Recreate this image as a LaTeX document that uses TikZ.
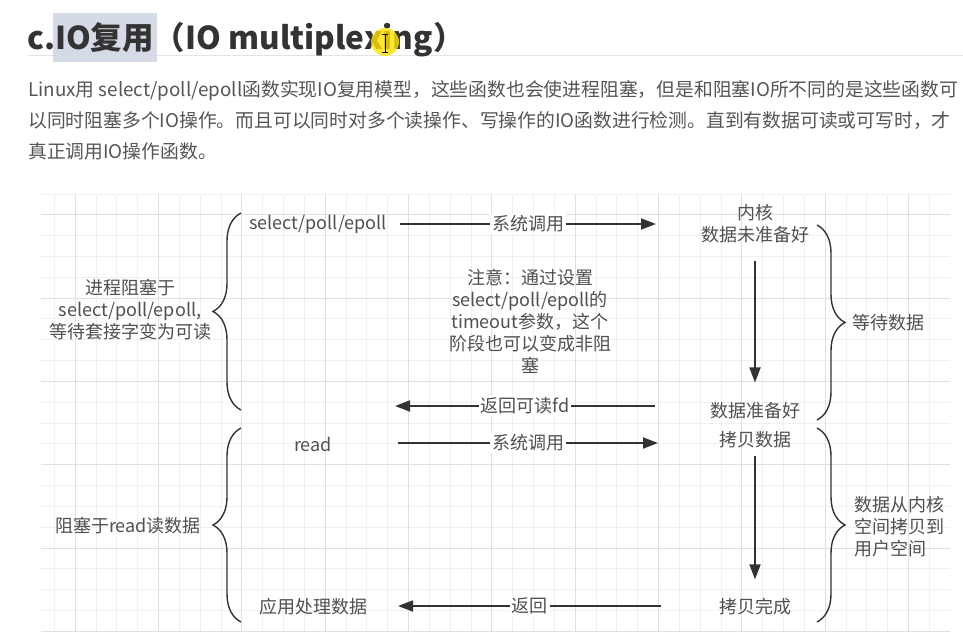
\documentclass[tikz,border=0pt]{standalone}
\usepackage{fontspec}
\setmainfont{Noto Sans CJK SC}
\usetikzlibrary{arrows.meta,decorations.pathreplacing}
\definecolor{txtgray}{HTML}{505050}
\definecolor{paragray}{HTML}{555555}
\definecolor{linegray}{HTML}{333333}
\definecolor{gridminor}{HTML}{F0F0F0}
\definecolor{gridmajor}{HTML}{E0E0E0}
\definecolor{hlblue}{HTML}{D5DBE6}
\definecolor{rulegray}{HTML}{E4E4E4}

\begin{document}
\begin{tikzpicture}[x=1pt,y=-1pt,
	lbl/.style={text=txtgray,font=\fontsize{18}{22}\selectfont,align=center,inner sep=1pt},
	onarr/.style={lbl,fill=white,inner sep=2pt},
	para/.style={text=paragray,font=\fontsize{18.8}{22}\selectfont,anchor=west,inner sep=0pt},
	arr/.style={draw=linegray,line width=1.8pt,-{Triangle[length=15pt,width=11pt]}},
	brc/.style={draw=linegray,line width=1.4pt,decorate,decoration={brace,amplitude=28pt}}]
	% 画布
	\useasboundingbox (0,0) rectangle (963,634);
	\fill[white] (0,0) rectangle (963,634);
	% 标题
	\draw[rulegray,line width=1pt] (28,56) -- (963,56);
	\fill[hlblue] (53,13) rectangle (157,62);
	\node[anchor=base west,inner sep=0pt,text=linegray,font=\bfseries\fontsize{31.5}{34}\selectfont] (title) at (27,50) {c.IO复用（IO multiplexing）};
	\fill[yellow!85!orange,opacity=0.8] (385,42) circle (14);
	\draw[black,line width=0.8pt] (385,34) -- (385,52) (382,34) -- (388,34) (382,52) -- (388,52);
	% 说明文字
	\node[para] (p1) at (28,91) {Linux用 select/poll/epoll函数实现IO复用模型，这些函数也会使进程阻塞，但是和阻塞IO所不同的是这些函数可};
	\node[para] (p2) at (28,121) {以同时阻塞多个IO操作。而且可以同时对多个读操作、写操作的IO函数进行检测。直到有数据可读或可写时，才};
	\node[para] (p3) at (28,151) {真正调用IO操作函数。};
	% 网格
	\begin{scope}
		\clip (41,194) rectangle (950,632);
		\foreach \i in {0,...,43} \draw[gridminor,line width=1pt] ({54.5+20.83*\i},194) -- ++(0,438);
		\foreach \j in {0,...,21} \draw[gridminor,line width=1pt] (41,{194+20.83*\j}) -- ++(909,0);
		\foreach \i in {0,...,10} \draw[gridmajor,line width=1pt] ({75.3+83.33*\i},194) -- ++(0,438);
		\foreach \j in {0,...,5} \draw[gridmajor,line width=1pt] (41,{214.8+83.33*\j}) -- ++(909,0);
	\end{scope}
	% 用户进程一侧
	\node[lbl] (selcall) at (318,224) {select/poll/epoll};
	\node[lbl] (readcall) at (313,444) {read};
	\node[lbl] (apply) at (313,607) {应用处理数据};
	\node[lbl] (waitsel) at (130,310) {进程阻塞于\\select/poll/epoll,\\等待套接字变为可读};
	\node[lbl] (waitread) at (128,526) {阻塞于read读数据};
	\node[lbl] (note) at (530,321) {注意：通过设置\\select/poll/epoll的\\timeout参数，这个\\阶段也可以变成非阻\\塞};
	% 内核一侧
	\node[lbl] (kern) at (755,224) {内核\\数据未准备好};
	\node[lbl] (ready) at (755,411) {数据准备好};
	\node[lbl] (copy) at (755,440) {拷贝数据};
	\node[lbl] (copied) at (755,607) {拷贝完成};
	\node[lbl] (waitdata) at (888,323) {等待数据};
	\node[lbl,anchor=west,align=left] (copyspace) at (853,527) {数据从内核\\空间拷贝到\\用户空间};
	% 箭头端点
	\coordinate (a1s) at (400,224);
	\coordinate (a1e) at (656,224);
	\coordinate (a2s) at (655,406);
	\coordinate (a2e) at (395,406);
	\coordinate (a3s) at (398,443);
	\coordinate (a3e) at (658,443);
	\coordinate (a4s) at (661,606);
	\coordinate (a4e) at (398,606);
	% 横向箭头
	\draw[arr] (a1s) -- (a1e) node[onarr,midway] (call1) {系统调用};
	\draw[arr] (a2s) -- (a2e) node[onarr,midway] (ret1) {返回可读fd};
	\draw[arr] (a3s) -- (a3e) node[onarr,midway] (call2) {系统调用};
	\draw[arr] (a4s) -- (a4e) node[onarr,midway] (ret2) {返回};
	% 纵向箭头
	\draw[arr,shorten <=16pt,shorten >=19pt] (kern) -- (ready);
	\draw[arr,shorten <=6pt,shorten >=18pt] (copy) -- (copied);
	% 大括号
	\draw[brc] (241,410) -- (241,213);
	\draw[brc] (241,622) -- (241,428);
	\draw[brc] (817,225) -- (817,420);
	\draw[brc] (817,428) -- (817,622);
\end{tikzpicture}
\end{document}
